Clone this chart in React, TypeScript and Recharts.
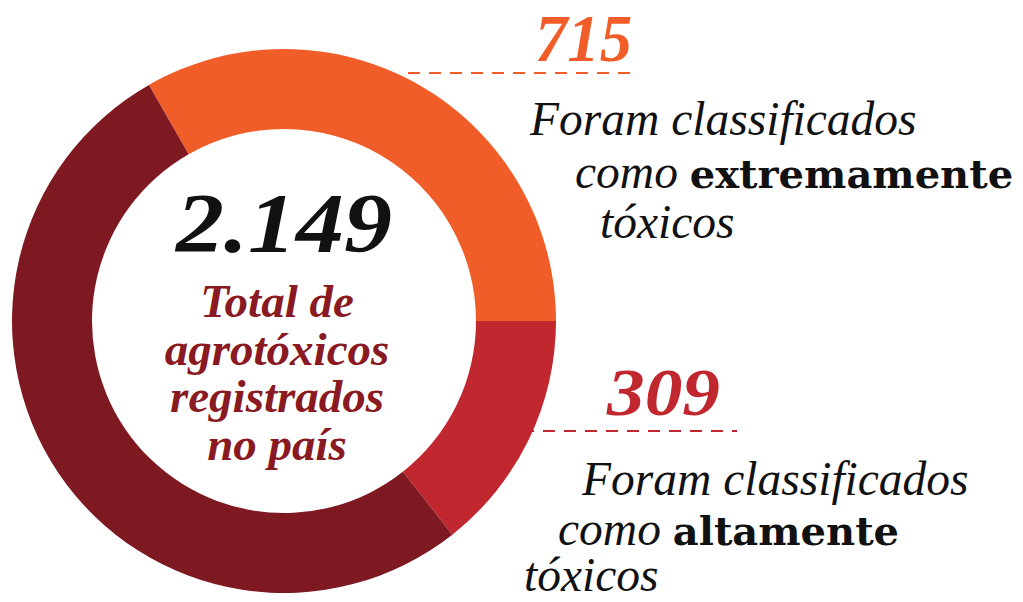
import { PieChart, Pie, Cell, Customized } from "recharts";

const categories = ["Extremamente tóxicos", "Altamente tóxicos", "Demais"];
const values = [715, 309, 1125];
const colors = ["#F15D29", "#C1272F", "#7F1921"];
const totalLabel = "2.149";
const centerLines = ["Total de", "agrotóxicos", "registrados", "no país"];

const data = categories.map((name, i) => ({ name, value: values[i] }));
const sum = values.reduce((a, b) => a + b, 0);
// first slice ends exactly at 3 o'clock, going clockwise
const startAngle = (360 * values[0]) / sum;

const FONT = "'Liberation Serif', serif";
const BOLD_FONT = "'DejaVu Serif', serif";

function Annotations() {
  return (
    <g fontFamily={FONT}>
      {/* center */}
      <text
        x={176}
        y={252}
        fontSize={84}
        fontWeight="bold"
        fontStyle="italic"
        fill="#111"
        textLength={216}
        lengthAdjust="spacingAndGlyphs"
      >
        {totalLabel}
      </text>
      {centerLines.map((line, i) => (
        <text
          key={line}
          x={277}
          y={317 + i * 47.5}
          textAnchor="middle"
          fontSize={47}
          fontWeight="bold"
          fontStyle="italic"
          fill="#8A1A22"
        >
          {line}
        </text>
      ))}

      {/* extremamente */}
      <text
        x={535}
        y={61}
        fontSize={68}
        fontWeight="bold"
        fontStyle="italic"
        fill={colors[0]}
        textLength={97}
        lengthAdjust="spacingAndGlyphs"
      >
        {values[0]}
      </text>
      <line x1={408} x2={634} y1={73} y2={73} stroke={colors[0]} strokeWidth={2} strokeDasharray="12 9" />
      <g fontSize={47.5} fontStyle="italic" fill="#111">
        <text x={530} y={135}>Foram classificados</text>
        <text x={575} y={188}>
          como{" "}
          <tspan fontFamily={BOLD_FONT} fontSize={40} fontWeight="bold" fontStyle="normal">
            extremamente
          </tspan>
        </text>
        <text x={600} y={238}>tóxicos</text>
      </g>

      {/* altamente */}
      <text
        x={607}
        y={415}
        fontSize={68}
        fontWeight="bold"
        fontStyle="italic"
        fill={colors[1]}
        textLength={113}
        lengthAdjust="spacingAndGlyphs"
      >
        {values[1]}
      </text>
      <line x1={522} x2={737} y1={431} y2={431} stroke={colors[1]} strokeWidth={2} strokeDasharray="12 9" />
      <g fontSize={47.5} fontStyle="italic" fill="#111">
        <text x={582} y={495}>Foram classificados</text>
        <text x={558} y={545}>
          como{" "}
          <tspan fontFamily={BOLD_FONT} fontSize={40} fontWeight="bold" fontStyle="normal">
            altamente
          </tspan>
        </text>
        <text x={524} y={591}>tóxicos</text>
      </g>
    </g>
  );
}

export default function App() {
  return (
    <div style={{ position: "absolute", left: 0, top: 0, background: "#fff" }}>
      <PieChart width={1023} height={602} margin={{ top: 0, right: 0, bottom: 0, left: 0 }}>
        <Pie
          data={data}
          dataKey="value"
          nameKey="name"
          cx={284}
          cy={321}
          innerRadius={192}
          outerRadius={272}
          startAngle={startAngle}
          endAngle={startAngle - 360}
          stroke="none"
          isAnimationActive={false}
        >
          {data.map((d, i) => (
            <Cell key={d.name} fill={colors[i]} />
          ))}
        </Pie>
        <Customized component={Annotations} />
      </PieChart>
    </div>
  );
}
